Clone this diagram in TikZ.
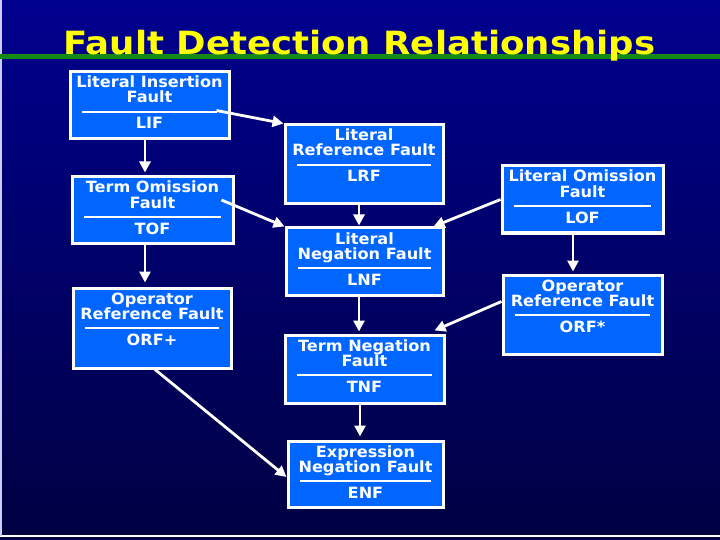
\documentclass[tikz,border=0pt]{standalone}
\usepackage{fontspec}
\setmainfont{DejaVu Sans}[FakeStretch=1.04]
\newfontfamily\titlefont{DejaVu Sans}[FakeStretch=1.11]
\usetikzlibrary{arrows.meta,calc,fit}

\definecolor{bgtop}{RGB}{0,0,142}
\definecolor{bgbot}{RGB}{0,0,66}
\definecolor{boxblue}{RGB}{0,102,255}
\definecolor{titleyellow}{RGB}{255,255,0}
\definecolor{rulegreen}{RGB}{20,140,20}

\tikzset{
  fbox/.style={draw=white, line width=3pt, fill=boxblue, inner sep=0pt},
  ftext/.style={text=white, font=\fontsize{15.5}{15.5}\selectfont\bfseries, inner sep=0pt, anchor=base},
  sepline/.style={draw=white, line width=2pt},
  arr/.style={draw=white, line width=2.8pt, -{Triangle[length=11pt,width=11pt]}},
  ttl/.style={text=titleyellow, font=\titlefont\bfseries\fontsize{32}{32}\selectfont, inner sep=0pt, anchor=base}
}

% name, x1, y1, x2, y2, line1, line2, abbreviation
\newcommand\faultbox[8]{%
  \node[fbox, fit={(#2,#3) (#4,#5)}] (#1) {};
  \node[ftext] (#1-a) at ({(#2+#4)/2},{#3+16}) {#6};
  \node[ftext] (#1-b) at ({(#2+#4)/2},{#3+31}) {#7};
  \draw[sepline] ({#2+12},{#3+40}) -- ({#4-12},{#3+40});
  \node[ftext] (#1-c) at ({(#2+#4)/2},{#3+57}) {#8};
}

\begin{document}
\begin{tikzpicture}[x=1pt,y=-1pt]
\useasboundingbox (0,0) rectangle (720,540);
\shade[top color=bgtop, bottom color=bgbot] (0,0) rectangle (720,540);
\draw[white, line width=2pt] (0,536) -- (720,536);
\draw[white!80!blue, line width=1.5pt] (0.75,0) -- (0.75,536);
\draw[rulegreen, line width=5pt] (0,56.5) -- (720,56.5);
\node[ttl] (title) at (359.5,55) {Fault Detection Relationships};

\faultbox{LIF}{70}{72}{229}{139}{Literal Insertion}{Fault}{LIF}
\faultbox{TOF}{72}{177}{233}{243}{Term Omission}{Fault}{TOF}
\faultbox{ORFp}{73}{288}{231}{368}{Operator}{Reference Fault}{ORF+}
\faultbox{LRF}{285}{125}{443}{204}{Literal}{Reference Fault}{LRF}
\faultbox{LNF}{286}{228}{443}{295}{Literal}{Negation Fault}{LNF}
\faultbox{TNF}{285}{335}{444}{403}{Term Negation}{Fault}{TNF}
\faultbox{ENF}{288}{441}{443}{507}{Expression}{Negation Fault}{ENF}
\faultbox{LOF}{502}{166}{663}{233}{Literal Omission}{Fault}{LOF}
\faultbox{ORFs}{503}{275}{662}{354}{Operator}{Reference Fault}{ORF*}

\draw[arr] ([xshift=-14pt,yshift=-5pt]LIF.east) -- (LRF.north west);
\draw[arr, shorten >=3pt] ([xshift=-4.5pt]LIF.south) -- ([xshift=-4.5pt]LIF.south |- TOF.north);
\draw[arr, shorten >=4pt] ([xshift=-7.5pt]TOF.south) -- ([xshift=-7.5pt]TOF.south |- ORFp.north);
\draw[arr] ([xshift=-13pt,yshift=10pt]TOF.east) -- (LNF.north west);
\draw[arr] ([xshift=3pt]ORFp.south) -- ([yshift=-3pt]ENF.west);
\draw[arr, shorten >=1pt] ([xshift=-5pt]LRF.south) -- ([xshift=-5pt]LRF.south |- LNF.north);
\draw[arr, shorten >=2pt] ([xshift=-5.5pt]LNF.south) -- ([xshift=-5.5pt]LNF.south |- TNF.north);
\draw[arr, shorten >=3pt] ([xshift=-4.5pt]TNF.south) -- ([xshift=-4.5pt]TNF.south |- ENF.north);
\draw[arr] (LOF.west) -- ([xshift=-11pt]LNF.north east);
\draw[arr] ([yshift=13pt]ORFs.west) -- ([xshift=-11pt,yshift=3pt]TNF.north east);
\draw[arr, shorten >=2pt] ([xshift=-9.5pt]LOF.south) -- ([xshift=-9.5pt]LOF.south |- ORFs.north);
\end{tikzpicture}
\end{document}
